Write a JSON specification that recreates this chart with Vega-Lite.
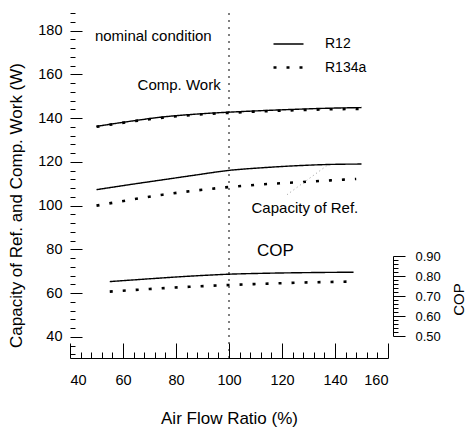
{
  "$schema": "https://vega.github.io/schema/vega-lite/v6.json",
  "width": 318,
  "height": 345,
  "autosize": {"type": "none"},
  "padding": {"left": 70, "top": 13, "right": 80, "bottom": 74},
  "background": "white",
  "config": {
    "view": {"stroke": null},
    "font": "Liberation Sans",
    "axis": {"labelFont": "Liberation Sans", "titleFont": "Liberation Sans", "labelColor": "black", "titleColor": "black", "tickColor": "black", "domainColor": "black", "titleFontWeight": "normal", "grid": false, "tickWidth": 1, "labelOverlap": false}
  },
  "datasets": {
    "main": [
      {"quantity": "Comp. Work", "refrigerant": "R12", "ratio": 50, "value": 136.2},
      {"quantity": "Comp. Work", "refrigerant": "R12", "ratio": 62.5, "value": 138.5},
      {"quantity": "Comp. Work", "refrigerant": "R12", "ratio": 75, "value": 140.5},
      {"quantity": "Comp. Work", "refrigerant": "R12", "ratio": 87.5, "value": 141.8},
      {"quantity": "Comp. Work", "refrigerant": "R12", "ratio": 100, "value": 142.7},
      {"quantity": "Comp. Work", "refrigerant": "R12", "ratio": 112.5, "value": 143.4},
      {"quantity": "Comp. Work", "refrigerant": "R12", "ratio": 125, "value": 144.0},
      {"quantity": "Comp. Work", "refrigerant": "R12", "ratio": 137.5, "value": 144.5},
      {"quantity": "Comp. Work", "refrigerant": "R12", "ratio": 150, "value": 144.8},
      {"quantity": "Comp. Work", "refrigerant": "R134a", "ratio": 50, "value": 136.0},
      {"quantity": "Comp. Work", "refrigerant": "R134a", "ratio": 62.5, "value": 138.3},
      {"quantity": "Comp. Work", "refrigerant": "R134a", "ratio": 75, "value": 140.2},
      {"quantity": "Comp. Work", "refrigerant": "R134a", "ratio": 87.5, "value": 141.5},
      {"quantity": "Comp. Work", "refrigerant": "R134a", "ratio": 100, "value": 142.4},
      {"quantity": "Comp. Work", "refrigerant": "R134a", "ratio": 112.5, "value": 143.1},
      {"quantity": "Comp. Work", "refrigerant": "R134a", "ratio": 125, "value": 143.6},
      {"quantity": "Comp. Work", "refrigerant": "R134a", "ratio": 137.5, "value": 144.0},
      {"quantity": "Comp. Work", "refrigerant": "R134a", "ratio": 150, "value": 144.2},
      {"quantity": "Capacity of Ref.", "refrigerant": "R12", "ratio": 50, "value": 107.3},
      {"quantity": "Capacity of Ref.", "refrigerant": "R12", "ratio": 62.5, "value": 109.6},
      {"quantity": "Capacity of Ref.", "refrigerant": "R12", "ratio": 75, "value": 111.8},
      {"quantity": "Capacity of Ref.", "refrigerant": "R12", "ratio": 87.5, "value": 114.0},
      {"quantity": "Capacity of Ref.", "refrigerant": "R12", "ratio": 100, "value": 116.1},
      {"quantity": "Capacity of Ref.", "refrigerant": "R12", "ratio": 112.5, "value": 117.3},
      {"quantity": "Capacity of Ref.", "refrigerant": "R12", "ratio": 125, "value": 118.2},
      {"quantity": "Capacity of Ref.", "refrigerant": "R12", "ratio": 137.5, "value": 118.8},
      {"quantity": "Capacity of Ref.", "refrigerant": "R12", "ratio": 150, "value": 119.0},
      {"quantity": "Capacity of Ref.", "refrigerant": "R134a", "ratio": 50, "value": 100.0},
      {"quantity": "Capacity of Ref.", "refrigerant": "R134a", "ratio": 62.5, "value": 102.6},
      {"quantity": "Capacity of Ref.", "refrigerant": "R134a", "ratio": 75, "value": 105.0},
      {"quantity": "Capacity of Ref.", "refrigerant": "R134a", "ratio": 87.5, "value": 106.9},
      {"quantity": "Capacity of Ref.", "refrigerant": "R134a", "ratio": 100, "value": 108.5},
      {"quantity": "Capacity of Ref.", "refrigerant": "R134a", "ratio": 112.5, "value": 109.7},
      {"quantity": "Capacity of Ref.", "refrigerant": "R134a", "ratio": 125, "value": 110.6},
      {"quantity": "Capacity of Ref.", "refrigerant": "R134a", "ratio": 137.5, "value": 111.5},
      {"quantity": "Capacity of Ref.", "refrigerant": "R134a", "ratio": 148, "value": 112.2}
    ],
    "cop": [
      {"refrigerant": "R12", "ratio": 55, "COP": 0.772},
      {"refrigerant": "R12", "ratio": 70, "COP": 0.786},
      {"refrigerant": "R12", "ratio": 85, "COP": 0.799},
      {"refrigerant": "R12", "ratio": 100, "COP": 0.809},
      {"refrigerant": "R12", "ratio": 115, "COP": 0.814},
      {"refrigerant": "R12", "ratio": 130, "COP": 0.817},
      {"refrigerant": "R12", "ratio": 147, "COP": 0.819},
      {"refrigerant": "R134a", "ratio": 55, "COP": 0.722},
      {"refrigerant": "R134a", "ratio": 70, "COP": 0.735},
      {"refrigerant": "R134a", "ratio": 85, "COP": 0.746},
      {"refrigerant": "R134a", "ratio": 100, "COP": 0.755},
      {"refrigerant": "R134a", "ratio": 115, "COP": 0.762},
      {"refrigerant": "R134a", "ratio": 130, "COP": 0.768},
      {"refrigerant": "R134a", "ratio": 146, "COP": 0.772}
    ],
    "labels": [
      {"label": "nominal condition", "ratio": 49.4, "value": 177.5},
      {"label": "Comp. Work", "ratio": 65.5, "value": 154.9},
      {"label": "Capacity of Ref.", "ratio": 108.5, "value": 98.8},
      {"label": "COP", "ratio": 117.5, "value": 79.5}
    ],
    "leaders": [
      {"ratio": 121.9, "value": 105.0, "ratio2": 137.4, "value2": 118.7}
    ],
    "nominal": [{"ratio": 100}]
  },
  "layer": [
    {
      "layer": [
        {
          "data": {"name": "nominal"},
          "mark": {"type": "rule", "color": "black", "strokeDash": [2, 5], "strokeWidth": 1},
          "encoding": {
            "x": {
              "field": "ratio", "type": "quantitative",
              "scale": {"domain": [40, 160], "nice": false, "zero": false},
              "axis": {
                "title": "Air Flow Ratio (%)",
                "values": [40,44,48,52,56,60,64,68,72,76,80,84,88,92,96,100,104,108,112,116,120,124,128,132,136,140,144,148,152,156,160],
                "labelExpr": "datum.value % 20 === 0 ? datum.label : ''",
                "tickSize": {"condition": {"test": "datum.value % 20 === 0", "value": -15}, "value": -6},
                "domain": true, "domainWidth": 1,
                "labelFontSize": 14.5, "labelPadding": 30,
                "titleFontSize": 17, "titleY": 60, "titleBaseline": "middle"
              }
            }
          }
        },
        {
          "data": {"name": "main"},
          "mark": {"type": "line", "color": "black", "interpolate": "monotone"},
          "encoding": {
            "x": {
              "field": "ratio", "type": "quantitative",
              "scale": {"domain": [40, 160], "nice": false, "zero": false},
              "axis": {
                "title": "Air Flow Ratio (%)",
                "values": [40,44,48,52,56,60,64,68,72,76,80,84,88,92,96,100,104,108,112,116,120,124,128,132,136,140,144,148,152,156,160],
                "labelExpr": "datum.value % 20 === 0 ? datum.label : ''",
                "tickSize": {"condition": {"test": "datum.value % 20 === 0", "value": -15}, "value": -6},
                "domain": true, "domainWidth": 1,
                "labelFontSize": 14.5, "labelPadding": 30,
                "titleFontSize": 17, "titleY": 60, "titleBaseline": "middle"
              }
            },
            "y": {
              "field": "value", "type": "quantitative",
              "scale": {"domain": [30.4, 188], "nice": false, "zero": false},
              "axis": {
                "orient": "left",
                "title": "Capacity of Ref. and Comp. Work (W)",
                "values": [32,36,40,44,48,52,56,60,64,68,72,76,80,84,88,92,96,100,104,108,112,116,120,124,128,132,136,140,144,148,152,156,160,164,168,172,176,180,184,188],
                "labelExpr": "datum.value % 20 === 0 ? datum.label : ''",
                "tickSize": {"condition": {"test": "datum.value % 20 === 0", "value": -12}, "value": -5},
                "domain": false,
                "labelFontSize": 14.5, "labelPadding": 20,
                "titleFontSize": 17, "titleX": -54, "titleY": 192, "titleAlign": "center", "titleBaseline": "middle"
              }
            },
            "detail": {"field": "quantity"},
            "strokeDash": {
              "field": "refrigerant", "type": "nominal",
              "scale": {"domain": ["R12", "R134a"], "range": [[1, 0], [3, 10]]},
              "legend": {
                "orient": "none", "legendX": 202, "legendY": 15, "title": null,
                "symbolType": "stroke", "symbolSize": 900, "symbolStrokeColor": "black", "symbolStrokeWidth": 2,
                "labelFontSize": 14, "labelOffset": 20, "labelColor": "black", "rowPadding": -4
              }
            },
            "strokeWidth": {
              "field": "refrigerant", "type": "nominal",
              "scale": {"domain": ["R12", "R134a"], "range": [1.4, 2.6]},
              "legend": null
            }
          }
        },
        {
          "data": {"name": "leaders"},
          "mark": {"type": "rule", "color": "#9a9a9a", "strokeDash": [1, 3], "strokeWidth": 1},
          "encoding": {
            "x": {
              "field": "ratio", "type": "quantitative",
              "scale": {"domain": [40, 160], "nice": false, "zero": false},
              "axis": {
                "title": "Air Flow Ratio (%)",
                "values": [40,44,48,52,56,60,64,68,72,76,80,84,88,92,96,100,104,108,112,116,120,124,128,132,136,140,144,148,152,156,160],
                "labelExpr": "datum.value % 20 === 0 ? datum.label : ''",
                "tickSize": {"condition": {"test": "datum.value % 20 === 0", "value": -15}, "value": -6},
                "domain": true, "domainWidth": 1,
                "labelFontSize": 14.5, "labelPadding": 30,
                "titleFontSize": 17, "titleY": 60, "titleBaseline": "middle"
              }
            },
            "y": {
              "field": "value", "type": "quantitative",
              "scale": {"domain": [30.4, 188], "nice": false, "zero": false},
              "axis": {
                "orient": "left",
                "title": "Capacity of Ref. and Comp. Work (W)",
                "values": [32,36,40,44,48,52,56,60,64,68,72,76,80,84,88,92,96,100,104,108,112,116,120,124,128,132,136,140,144,148,152,156,160,164,168,172,176,180,184,188],
                "labelExpr": "datum.value % 20 === 0 ? datum.label : ''",
                "tickSize": {"condition": {"test": "datum.value % 20 === 0", "value": -12}, "value": -5},
                "domain": false,
                "labelFontSize": 14.5, "labelPadding": 20,
                "titleFontSize": 17, "titleX": -54, "titleY": 192, "titleAlign": "center", "titleBaseline": "middle"
              }
            },
            "x2": {"field": "ratio2"},
            "y2": {"field": "value2"}
          }
        },
        {
          "data": {"name": "labels"},
          "transform": [{"filter": "datum.label !== 'COP'"}],
          "mark": {"type": "text", "align": "left", "baseline": "middle", "fontSize": 15, "color": "black", "font": "Liberation Sans"},
          "encoding": {
            "x": {
              "field": "ratio", "type": "quantitative",
              "scale": {"domain": [40, 160], "nice": false, "zero": false},
              "axis": {
                "title": "Air Flow Ratio (%)",
                "values": [40,44,48,52,56,60,64,68,72,76,80,84,88,92,96,100,104,108,112,116,120,124,128,132,136,140,144,148,152,156,160],
                "labelExpr": "datum.value % 20 === 0 ? datum.label : ''",
                "tickSize": {"condition": {"test": "datum.value % 20 === 0", "value": -15}, "value": -6},
                "domain": true, "domainWidth": 1,
                "labelFontSize": 14.5, "labelPadding": 30,
                "titleFontSize": 17, "titleY": 60, "titleBaseline": "middle"
              }
            },
            "y": {
              "field": "value", "type": "quantitative",
              "scale": {"domain": [30.4, 188], "nice": false, "zero": false},
              "axis": {
                "orient": "left",
                "title": "Capacity of Ref. and Comp. Work (W)",
                "values": [32,36,40,44,48,52,56,60,64,68,72,76,80,84,88,92,96,100,104,108,112,116,120,124,128,132,136,140,144,148,152,156,160,164,168,172,176,180,184,188],
                "labelExpr": "datum.value % 20 === 0 ? datum.label : ''",
                "tickSize": {"condition": {"test": "datum.value % 20 === 0", "value": -12}, "value": -5},
                "domain": false,
                "labelFontSize": 14.5, "labelPadding": 20,
                "titleFontSize": 17, "titleX": -54, "titleY": 192, "titleAlign": "center", "titleBaseline": "middle"
              }
            },
            "text": {"field": "label"}
          }
        },
        {
          "data": {"name": "labels"},
          "transform": [{"filter": "datum.label === 'COP'"}],
          "mark": {"type": "text", "align": "center", "baseline": "middle", "fontSize": 17, "color": "black", "font": "Liberation Sans"},
          "encoding": {
            "x": {
              "field": "ratio", "type": "quantitative",
              "scale": {"domain": [40, 160], "nice": false, "zero": false},
              "axis": {
                "title": "Air Flow Ratio (%)",
                "values": [40,44,48,52,56,60,64,68,72,76,80,84,88,92,96,100,104,108,112,116,120,124,128,132,136,140,144,148,152,156,160],
                "labelExpr": "datum.value % 20 === 0 ? datum.label : ''",
                "tickSize": {"condition": {"test": "datum.value % 20 === 0", "value": -15}, "value": -6},
                "domain": true, "domainWidth": 1,
                "labelFontSize": 14.5, "labelPadding": 30,
                "titleFontSize": 17, "titleY": 60, "titleBaseline": "middle"
              }
            },
            "y": {
              "field": "value", "type": "quantitative",
              "scale": {"domain": [30.4, 188], "nice": false, "zero": false},
              "axis": {
                "orient": "left",
                "title": "Capacity of Ref. and Comp. Work (W)",
                "values": [32,36,40,44,48,52,56,60,64,68,72,76,80,84,88,92,96,100,104,108,112,116,120,124,128,132,136,140,144,148,152,156,160,164,168,172,176,180,184,188],
                "labelExpr": "datum.value % 20 === 0 ? datum.label : ''",
                "tickSize": {"condition": {"test": "datum.value % 20 === 0", "value": -12}, "value": -5},
                "domain": false,
                "labelFontSize": 14.5, "labelPadding": 20,
                "titleFontSize": 17, "titleX": -54, "titleY": 192, "titleAlign": "center", "titleBaseline": "middle"
              }
            },
            "text": {"field": "label"}
          }
        }
      ]
    },
    {
      "data": {"name": "cop"},
      "mark": {"type": "line", "color": "black", "interpolate": "monotone"},
      "encoding": {
        "x": {
          "field": "ratio", "type": "quantitative",
          "scale": {"domain": [40, 160], "nice": false, "zero": false},
          "axis": {
            "title": "Air Flow Ratio (%)",
            "values": [40,44,48,52,56,60,64,68,72,76,80,84,88,92,96,100,104,108,112,116,120,124,128,132,136,140,144,148,152,156,160],
            "labelExpr": "datum.value % 20 === 0 ? datum.label : ''",
            "tickSize": {"condition": {"test": "datum.value % 20 === 0", "value": -15}, "value": -6},
            "domain": true, "domainWidth": 1,
            "labelFontSize": 14.5, "labelPadding": 30,
            "titleFontSize": 17, "titleY": 60, "titleBaseline": "middle"
          }
        },
        "y": {
          "field": "COP", "type": "quantitative",
          "scale": {"domain": [0.5, 0.9], "range": [323, 243], "nice": false, "zero": false},
          "axis": {
            "orient": "right", "title": "COP", "offset": 5,
            "values": [0.5,0.52,0.54,0.56,0.58,0.6,0.62,0.64,0.66,0.68,0.7,0.72,0.74,0.76,0.78,0.8,0.82,0.84,0.86,0.88,0.9],
            "labelExpr": "abs(datum.value*10 - round(datum.value*10)) < 0.001 ? format(datum.value, '.2f') : ''",
            "tickSize": {"condition": {"test": "abs(datum.value*10 - round(datum.value*10)) < 0.001", "value": 12}, "value": 5},
            "domain": true, "domainWidth": 1,
            "labelFontSize": 13, "labelPadding": 10,
            "titleFontSize": 15, "titleAngle": 270, "titleX": 65, "titleY": 286, "titleAlign": "center", "titleBaseline": "middle"
          }
        },
        "strokeDash": {"field": "refrigerant", "type": "nominal", "legend": null},
        "strokeWidth": {"field": "refrigerant", "type": "nominal", "legend": null}
      }
    }
  ],
  "resolve": {"scale": {"y": "independent"}}
}
